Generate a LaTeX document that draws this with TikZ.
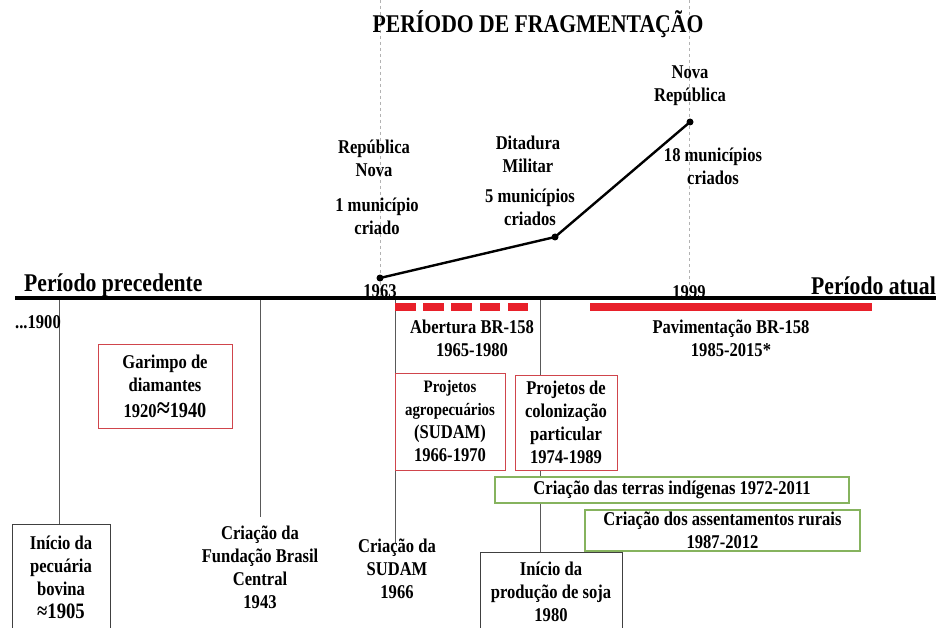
\documentclass[tikz,border=0pt]{standalone}
\usepackage{fontspec}
\setmainfont{Liberation Serif}[FakeStretch=0.85]
\usetikzlibrary{positioning}
\definecolor{barred}{HTML}{E8202A}
\definecolor{boxred}{HTML}{D0454C}
\definecolor{boxgreen}{HTML}{86B35E}

\tikzset{
  lbl/.style={align=center, inner sep=0pt, font=\bfseries\fontsize{19.5}{23}\selectfont},
  biglbl/.style={lbl, font=\bfseries\fontsize{25.5}{28}\selectfont},
  eventbox/.style={lbl, draw=black!75, line width=1pt, fill=white, anchor=north},
  redbox/.style={lbl, draw=boxred, line width=1pt, fill=white},
  greenbox/.style={lbl, draw=boxgreen, line width=1.1pt, fill=white},
  stem/.style={draw=black!65, line width=0.7pt},
  guide/.style={draw=black!30, dashed, line width=0.5pt},
  dot/.style={circle, fill, inner sep=0pt, minimum size=7pt},
}

\begin{document}
\begin{tikzpicture}[x=1pt, y=-1pt]
\useasboundingbox[fill=white] (0,0) rectangle (936,628);

% axis points
\coordinate (a1900) at (59,300);
\coordinate (a1943) at (260,300);
\coordinate (a1966) at (395,300);
\coordinate (a1980) at (540,300);
\coordinate (g1963) at (380,0);
\coordinate (g1999) at (689,0);

% dashed guides for the fragmentation period
\draw[guide] (g1963) -- (380,298);
\draw[guide] (g1999) -- (689,298);

% events below the axis (boxes run off the bottom edge)
\node[eventbox, minimum width=98] (pecuaria) at (61,524)
  {\rule{0pt}{25pt}Início da\\pecuária\\bovina\\{\fontsize{22}{23}\selectfont ≈1905}\rule[-20pt]{0pt}{20pt}};
\node[lbl] (fundacao) at (260,567) {Criação da\\Fundação Brasil\\Central\\1943};
\node[lbl] (sudam) at (397,569) {Criação da\\SUDAM\\1966};
\node[eventbox, minimum width=142] (soja) at (551,552)
  {\rule{0pt}{23pt}Início da\\produção de soja\\1980\rule[-20pt]{0pt}{20pt}};

% stems from the axis
\draw[stem] (a1900) -- (a1900 |- pecuaria.north);
\draw[stem, shorten >=8pt] (a1943) -- (a1943 |- fundacao.north);
\draw[stem, shorten >=-4pt] (a1966) -- (a1966 |- sudam.north);
\draw[stem] (a1980) -- (a1980 |- soja.north);

% boxes of periods
\node[redbox, minimum width=134, minimum height=84] (garimpo) at (165,386)
  {Garimpo de\\diamantes\\[3pt]1920{\fontsize{28}{23}\selectfont ≈}{\fontsize{21.5}{23}\selectfont 1940}};
\node[redbox, minimum width=110, minimum height=97] (agro) at (450,421.5)
  {\fontsize{17.5}{21}\selectfont Projetos\\\fontsize{17.5}{21}\selectfont agropecuários\\(SUDAM)\\1966-1970};
\node[redbox, minimum width=102, minimum height=95] (coloniz) at (566,422.5)
  {Projetos de\\colonização\\particular\\1974-1989};
\node[greenbox, minimum width=354, minimum height=26] (indigenas) at (672,490)
  {Criação das terras indígenas 1972-2011};
\node[greenbox, minimum width=275, minimum height=41] (assent) at (722.5,530.5)
  {Criação dos assentamentos rurais\\1987-2012};

% main axis
\draw[line width=3.5pt] (15,298) -- (936,298);
\node[biglbl, anchor=west] (precedente) at (24,285) {Período precedente};
\node[biglbl, anchor=east] (atual) at (936,286) {Período atual};
\node[lbl] (t1963) at (380,291) {1963};
\node[lbl] (t1999) at (689,292) {1999};
\node[lbl] (t1900) at (38,322) {...1900};

% BR-158
\foreach \i in {0,...,4}{
  \fill[barred] (395+\i*28.2,303) rectangle (415.5+\i*28.2,310.5);
}
\fill[barred] (590,303) rectangle (872,311);
\node[lbl] (abertura) at (472,338) {Abertura BR-158\\1965-1980};
\node[lbl] (pavim) at (731,338) {Pavimentação BR-158\\1985-2015*};

% fragmentation curve
\node[biglbl] (titulo) at (538,24) {PERÍODO DE FRAGMENTAÇÃO};
\node[dot] (p1) at (380,278) {};
\node[dot] (p2) at (555,237) {};
\node[dot] (p3) at (690,122) {};
\draw[line width=2.4pt] (p1.center) -- (p2.center) -- (p3.center);
\node[lbl] (repnova) at (374,158) {República\\Nova};
\node[lbl] (mun1) at (377,216) {1 município\\criado};
\node[lbl] (ditadura) at (528,154) {Ditadura\\Militar};
\node[lbl] (mun5) at (530,207) {5 municípios\\criados};
\node[lbl] (novarep) at (690,86) {Nova\\República};
\node[lbl] (mun18) at (713,166) {18 municípios\\criados};
\end{tikzpicture}
\end{document}
